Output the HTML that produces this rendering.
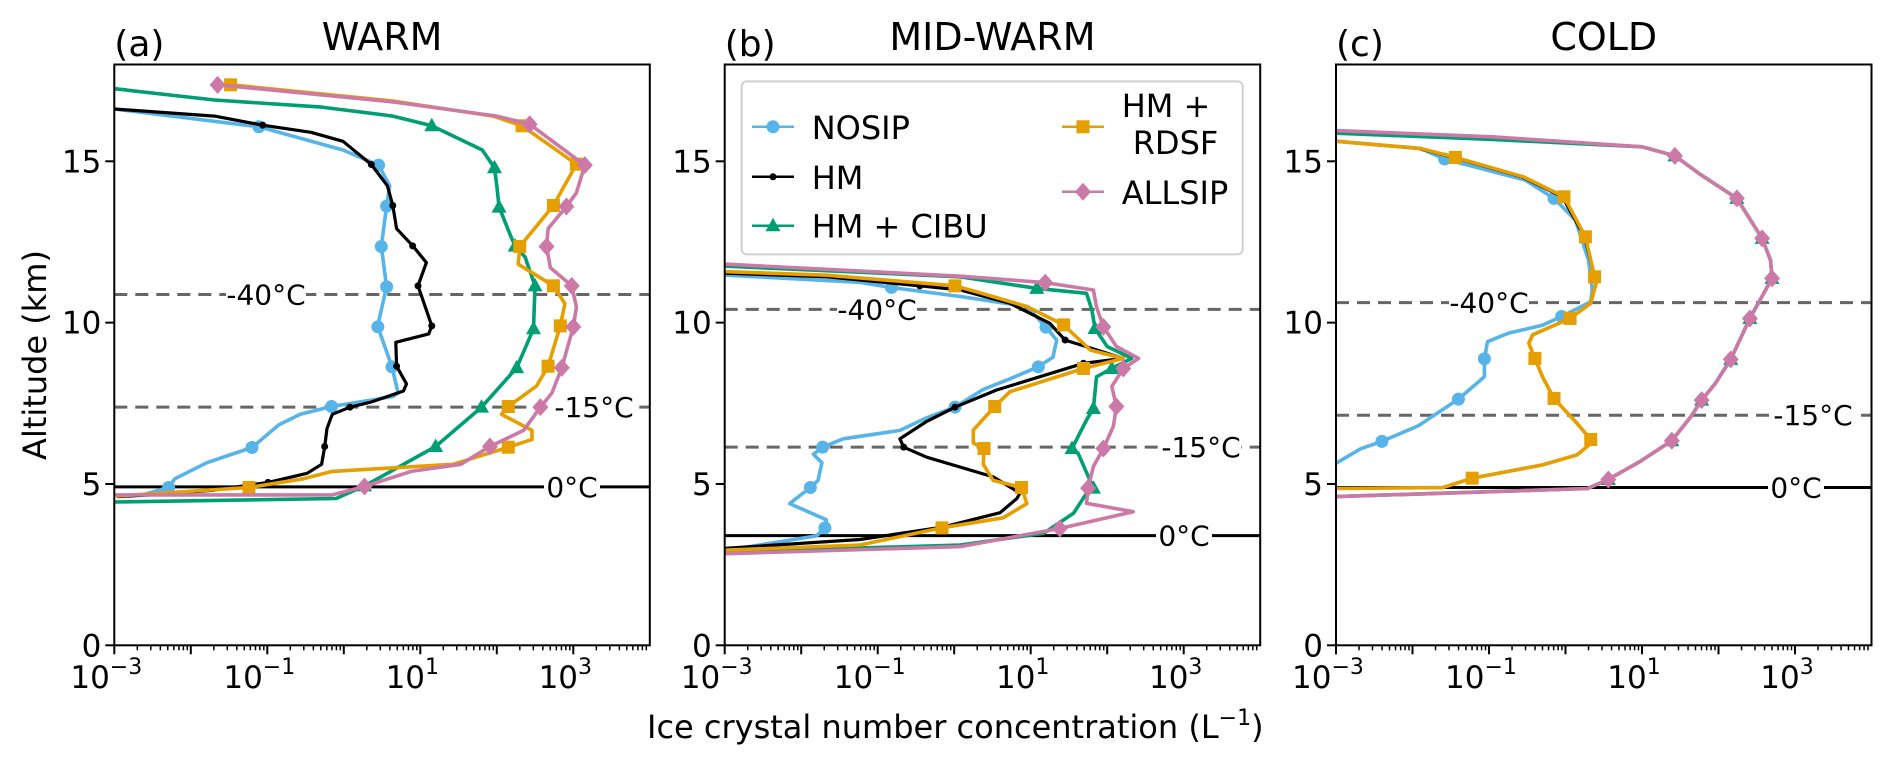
<!DOCTYPE html>
<html><head><meta charset="utf-8"><style>
html,body{margin:0;padding:0;background:#fff;}
svg text{font-family:"DejaVu Sans","Liberation Sans",sans-serif;fill:#000;}
</style></head><body>
<svg id="fig" xmlns="http://www.w3.org/2000/svg" width="1892" height="766" viewBox="0 0 1892 766">
<rect width="1892" height="766" fill="#fff"/>
<g id="panels"></g>
<text x="0" y="0" font-size="32" text-anchor="middle" transform="translate(46,355) rotate(-90)">Altitude (km)</text>
<text x="647" y="738" font-size="32">Ice crystal number concentration (L<tspan font-size="22" dy="-13">−1</tspan><tspan dy="13">)</tspan></text>
<g>
<rect x="741.7" y="81.4" width="501" height="173" rx="5" fill="#fff" fill-opacity="0.85" stroke="#d0d0d0" stroke-width="2"/>
<g id="legend-items"></g>
</g>
</svg>
<script>
// ---------- data (altitude km, log10 ICNC L^-1) ----------
const warmNosipAlt=[16.62,16.07,15.35,14.88,14.24,13.61,12.36,11.11,10.03,9.87,8.63,7.82,7.71,7.40,7.16,6.83,6.13,5.66,5.16,4.89,4.66];
const warmNosipLogN=[-3,-1.11,-0.01,0.455,0.6,0.56,0.49,0.56,0.455,0.445,0.63,0.71,0.64,-0.16,-0.57,-0.85,-1.20,-1.79,-2.21,-2.29,-2.63];
const warmNosipMk=[1,3,5,6,7,9,10,13,16,19];
const warmHmAlt=[16.62,16.40,16.12,15.90,15.62,14.90,14.24,13.63,12.91,12.38,11.86,11.14,9.90,9.65,9.39,8.65,8.10,7.88,7.54,7.38,7.16,6.72,6.16,5.61,5.33,5.05,4.81,4.66,4.61];
const warmHmLogN=[-3,-1.69,-1.06,-0.43,-0.01,0.36,0.57,0.64,0.69,0.90,1.08,0.97,1.15,1.11,0.68,0.69,0.82,0.78,0.36,0.08,-0.15,-0.22,-0.25,-0.29,-0.48,-0.99,-1.69,-2.53,-2.95];
const warmHmMk=[2,5,7,9,11,12,15,19,22,25];
const warmCibuAlt=[17.25,16.90,16.68,16.40,16.10,15.35,14.80,14.24,13.58,12.69,12.37,12.03,11.14,9.81,8.60,7.38,6.16,4.94,4.55,4.44];
const warmCibuLogN=[-3,-1.69,-0.29,0.64,1.15,1.81,1.97,2.0,2.03,2.18,2.24,2.37,2.50,2.48,2.26,1.80,1.20,0.27,-0.10,-3];
const warmCibuMk=[4,6,8,10,12,13,14,15,16,17];
const warmRdsfAlt=[17.37,16.87,16.40,16.10,14.91,13.63,12.36,11.81,11.14,10.59,9.90,8.65,8.04,7.40,7.16,6.66,6.38,6.14,5.61,5.39,5.16,4.89,4.63];
const warmRdsfLogN=[-1.48,0.64,1.95,2.33,3.04,2.74,2.30,2.28,2.74,2.89,2.83,2.67,2.52,2.15,2.06,2.46,2.46,2.15,1.43,-0.15,-0.53,-1.24,-2.95];
const warmRdsfMk=[0,3,4,5,6,8,10,11,13,17,21];
const warmAllAlt=[17.37,16.84,16.40,16.15,14.88,14.02,13.60,12.91,12.36,11.70,11.14,10.48,9.87,8.60,7.82,7.38,6.66,6.16,5.61,5.39,4.92,4.66,4.66];
const warmAllLogN=[-1.65,0.64,2.0,2.43,3.15,3.04,2.91,2.67,2.65,2.70,2.98,3.04,3.0,2.85,2.72,2.57,2.35,1.91,1.53,0.88,0.27,-0.15,-3];
const warmAllMk=[0,3,4,6,8,10,12,13,15,17,20];

const midNosipAlt=[2.95,3.39,3.64,3.89,4.39,4.89,5.11,5.66,5.92,6.14,6.40,6.66,7.05,7.38,7.93,8.26,8.63,8.93,9.46,9.86,10.50,10.81,11.09,11.25,11.47];
const midNosipLogN=[-2.97,-1.80,-1.69,-1.67,-2.15,-1.88,-1.78,-1.73,-1.84,-1.72,-1.45,-0.71,-0.36,0.01,0.38,0.73,1.10,1.29,1.34,1.20,0.95,0.08,-0.82,-1.23,-2.97];
const midNosipMk=[2,5,9,13,16,19,22];
const midHmAlt=[3.01,3.28,3.67,4.11,4.55,4.72,5.22,5.83,6.14,6.40,6.94,7.38,7.91,8.74,8.89,9.26,9.46,9.98,10.60,11.01,11.14,11.42,11.53];
const midHmLogN=[-2.97,-1.23,-0.14,0.60,0.82,0.86,0.51,-0.36,-0.66,-0.71,-0.36,0.01,0.55,1.69,2.21,1.72,1.45,1.25,0.73,0.08,-0.45,-1.67,-2.97];
const midHmMk=[2,8,11,13,16,20];
const midCibuAlt=[2.89,3.11,3.47,4.09,4.71,4.87,5.95,6.10,6.98,7.34,8.32,8.58,8.89,9.26,9.82,10.39,10.91,11.06,11.42,11.75];
const midCibuLogN=[-2.97,0.08,1.17,1.56,1.73,1.82,1.62,1.54,1.73,1.82,1.86,2.06,2.32,2.0,1.84,1.80,1.73,1.08,0.08,-2.97];
const midCibuMk=[5,7,9,11,14,17];
const midRdsfAlt=[2.95,3.11,3.64,3.95,4.39,4.89,5.11,5.61,6.10,6.27,6.67,7.40,7.86,8.58,8.89,9.15,9.93,10.50,10.95,11.14,11.47,11.58];
const midRdsfLogN=[-2.97,-1.23,-0.16,0.64,0.95,0.88,0.51,0.38,0.39,0.25,0.25,0.53,0.73,1.69,2.21,1.78,1.43,0.95,0.30,0.01,-1.67,-2.97];
const midRdsfMk=[2,5,8,11,13,16,19];
const midAllAlt=[2.84,3.06,3.62,4.14,4.40,4.87,5.54,6.10,6.78,7.40,8.02,8.58,8.89,9.26,9.87,10.49,11.01,11.24,11.44,11.81];
const midAllLogN=[-2.97,0.08,1.38,2.34,1.73,1.75,1.82,1.95,2.08,2.12,2.06,2.21,2.41,2.12,1.95,1.86,1.82,1.19,0.08,-2.97];
const midAllMk=[2,5,7,9,11,14,17];

const coldNosipAlt=[5.64,6.09,6.32,6.81,7.63,8.32,8.88,9.41,9.67,9.92,10.19,10.65,11.01,11.94,13.18,13.85,14.42,15.07,15.40,15.62];
const coldNosipLogN=[-3,-2.68,-2.40,-1.92,-1.40,-1.06,-1.06,-1.02,-0.75,-0.30,-0.05,0.33,0.35,0.30,0.13,-0.15,-0.53,-1.58,-1.90,-2.99];
const coldNosipMk=[2,4,6,10,15,17];
const coldHmAlt=[4.88,4.89,5.18,5.59,5.90,6.21,6.38,6.88,7.65,8.32,8.89,9.36,9.62,10.13,10.60,11.22,11.42,12.66,13.90,14.52,15.12,15.40,15.62];
const coldHmLogN=[-3,-1.60,-1.22,-0.30,0.15,0.31,0.33,0.15,-0.15,-0.30,-0.40,-0.48,-0.43,0.06,0.33,0.40,0.38,0.25,-0.04,-0.57,-1.46,-1.92,-2.99];
const coldHmMk=[2,6,8,10,13,16,17,18,20];
const coldCibuAlt=[4.61,4.86,5.14,5.69,6.34,7.09,7.60,8.12,8.86,10.13,11.37,11.94,12.61,13.85,14.63,15.17,15.45,15.68,15.87];
const coldCibuLogN=[-3,0.29,0.56,0.97,1.39,1.64,1.78,1.96,2.16,2.41,2.70,2.68,2.57,2.24,1.74,1.43,1.0,-0.96,-3];
const coldCibuMk=[2,4,6,8,9,10,12,13,15];
const coldRdsfAlt=[4.86,4.89,5.18,5.59,5.90,6.21,6.38,6.88,7.65,8.32,8.89,9.36,9.62,10.13,10.60,11.22,11.42,12.66,13.90,14.52,15.12,15.40,15.62];
const coldRdsfLogN=[-3,-1.60,-1.22,-0.30,0.15,0.31,0.33,0.15,-0.15,-0.30,-0.40,-0.48,-0.43,0.06,0.33,0.40,0.38,0.26,-0.02,-0.55,-1.44,-1.90,-2.99];
const coldRdsfMk=[2,6,8,10,13,16,17,18,20];
const coldAllAlt=[4.61,4.86,5.14,5.69,6.34,7.09,7.60,8.12,8.86,10.13,11.37,11.94,12.61,13.85,14.63,15.17,15.45,15.76,15.95];
const coldAllLogN=[-3,0.29,0.56,0.97,1.39,1.64,1.78,1.96,2.16,2.41,2.70,2.68,2.57,2.24,1.74,1.43,1.0,-0.96,-3];
const coldAllMk=[2,4,6,8,9,10,12,13,15];

const panelTitles=["WARM","MID-WARM","COLD"];
const panelLetters=["(a)","(b)","(c)"];
const tempAlt40=[10.87,10.41,10.62];
const tempAlt15=[7.38,6.14,7.13];
const tempAlt0=[4.91,3.40,4.89];
const yTicks=[0,5,10,15];
const xTickExp=[-3,-1,1,3];
const seriesNames=["NOSIP","HM","HM + CIBU","HM + RDSF","ALLSIP"];

// ---------- layout ----------
const X0=[114.3,724.7,1336], W=535.5, TOP=64.5, BOT=645.3, XMIN=-3, XMAX=4, YMAX=18;
const sx=(p,lv)=>X0[p]+(lv-XMIN)/(XMAX-XMIN)*W;
const sy=km=>BOT-km/YMAX*(BOT-TOP);
const NS="http://www.w3.org/2000/svg";
const colors=["#56B4E9","#000000","#009E73","#E69F00","#CC79A7"];
const seriesKeys=["nosip","hm","hm-cibu","hm-rdsf","allsip"];
const data=[
 [[warmNosipAlt,warmNosipLogN,warmNosipMk],[warmHmAlt,warmHmLogN,warmHmMk],[warmCibuAlt,warmCibuLogN,warmCibuMk],[warmRdsfAlt,warmRdsfLogN,warmRdsfMk],[warmAllAlt,warmAllLogN,warmAllMk]],
 [[midNosipAlt,midNosipLogN,midNosipMk],[midHmAlt,midHmLogN,midHmMk],[midCibuAlt,midCibuLogN,midCibuMk],[midRdsfAlt,midRdsfLogN,midRdsfMk],[midAllAlt,midAllLogN,midAllMk]],
 [[coldNosipAlt,coldNosipLogN,coldNosipMk],[coldHmAlt,coldHmLogN,coldHmMk],[coldCibuAlt,coldCibuLogN,coldCibuMk],[coldRdsfAlt,coldRdsfLogN,coldRdsfMk],[coldAllAlt,coldAllLogN,coldAllMk]]
];
function el(tag,attrs,parent){const e=document.createElementNS(NS,tag);for(const k in attrs)e.setAttribute(k,attrs[k]);if(parent)parent.appendChild(e);return e;}
function marker(s,x,y,g){
  let m;
  if(s===0){m=el('circle',{cx:x,cy:y,r:6.5,fill:colors[0]},g);}
  else if(s===1){m=el('circle',{cx:x,cy:y,r:3.5,fill:colors[1]},g);}
  else if(s===2){m=el('polygon',{points:`${x},${y-8} ${x+7.5},${y+5.5} ${x-7.5},${y+5.5}`,fill:colors[2]},g);}
  else if(s===3){m=el('rect',{x:x-6.5,y:y-6.5,width:13,height:13,fill:colors[3]},g);}
  else {m=el('polygon',{points:`${x},${y-9} ${x+8},${y} ${x},${y+9} ${x-8},${y}`,fill:colors[4]},g);}
  return m;
}
const root=document.getElementById('panels');
for(let p=0;p<3;p++){
  const g=el('g',{},root);
  
  
  const clipId='clip'+p;
  const cp=el('clipPath',{id:clipId},g);
  el('rect',{x:X0[p],y:TOP,width:W,height:BOT-TOP},cp);
  const plot=el('g',{'clip-path':`url(#${clipId})`},g);
  const levels=[[tempAlt40[p],'-40°C',true],[tempAlt15[p],'-15°C',true],[tempAlt0[p],'0°C',false]];
  const labelX=[[266,594,572],[877,1201,1184],[1489,1813,1796]];
  levels.forEach((lv,i)=>{
    const ln=el('line',{x1:X0[p],x2:X0[p]+W,y1:sy(lv[0]),y2:sy(lv[0]),stroke:lv[2]?'#666':'#000','stroke-width':3,'stroke-dasharray':lv[2]?'13,8':'none'},plot);
    
    
  });
  for(let s=0;s<5;s++){
    const [alt,lg,mk]=data[p][s];
    const pts=alt.map((a,i)=>sx(p,lg[i]).toFixed(1)+','+sy(a).toFixed(1)).join(' ');
    const sg=el('g',{},plot);
    
    
    el('polyline',{points:pts,fill:'none',stroke:colors[s],'stroke-width':s===1?3.2:3.6,'stroke-linejoin':'round','stroke-linecap':'round'},sg);
    mk.forEach(i=>{marker(s,sx(p,lg[i]),sy(alt[i]),sg);});
  }
  levels.forEach((lv,i)=>{
    const cx=labelX[p][i], cy=sy(lv[0]);
    el('rect',{x:cx-(i===2?28:40),y:cy-14,width:i===2?56:80,height:28,fill:'#fff'},g);
    const t=el('text',{x:cx,y:cy+10,'font-size':28,'text-anchor':'middle'},g);
    t.textContent=lv[1];
    
    
  });
  el('rect',{x:X0[p],y:TOP,width:W,height:BOT-TOP,fill:'none',stroke:'#000','stroke-width':2},g);
  yTicks.forEach(v=>{
    el('line',{x1:X0[p]-9,x2:X0[p],y1:sy(v),y2:sy(v),stroke:'#000','stroke-width':2},g);
    const t=el('text',{x:X0[p]-13,y:sy(v)+11,'font-size':31,'text-anchor':'end'},g);
    t.textContent=v;
    
    
  });
  for(let d=XMIN;d<XMAX;d++){
    el('line',{x1:sx(p,d),x2:sx(p,d),y1:BOT,y2:BOT+9,stroke:'#000','stroke-width':2},g);
    for(let k=2;k<10;k++){const xx=sx(p,d+Math.log10(k));el('line',{x1:xx,x2:xx,y1:BOT,y2:BOT+5,stroke:'#000','stroke-width':1.5},g);}
  }
  xTickExp.forEach(e=>{
    const t=el('text',{x:sx(p,e)-8,y:688,'font-size':31,'text-anchor':'middle'},g);
    
    
    t.appendChild(document.createTextNode('10'));
    const sp=el('tspan',{'font-size':22,dy:-14},t);
    sp.textContent=(e<0?'−':'')+Math.abs(e);
  });
  const tt=el('text',{x:X0[p]+W/2,y:50,'font-size':38,'text-anchor':'middle'},g);
  tt.textContent=panelTitles[p];
  
  
  const lt=el('text',{x:X0[p],y:56,'font-size':36},g);
  lt.textContent=panelLetters[p];
  
  
}
const lg=document.getElementById('legend-items');
const legPos=[[773,126.8],[773,176.8],[773,225.7],[1083,126.8],[1083,191.8]];
for(let s=0;s<5;s++){
  const [cx,cy]=legPos[s];
  const g=el('g',{},lg);
  
  
  el('line',{x1:cx-21,x2:cx+21,y1:cy,y2:cy,stroke:colors[s],'stroke-width':2.5},g);
  marker(s,cx,cy,g);
  if(s===3){
    const t1=el('text',{x:1121.7,y:117,'font-size':32},g);t1.textContent='HM +';
    const t2=el('text',{x:1132.7,y:154,'font-size':32},g);t2.textContent='RDSF';
  } else {
    const t=el('text',{x:cx+38.7,y:cy+12,'font-size':32},g);t.textContent=seriesNames[s];
  }
}
</script>
</body></html>
